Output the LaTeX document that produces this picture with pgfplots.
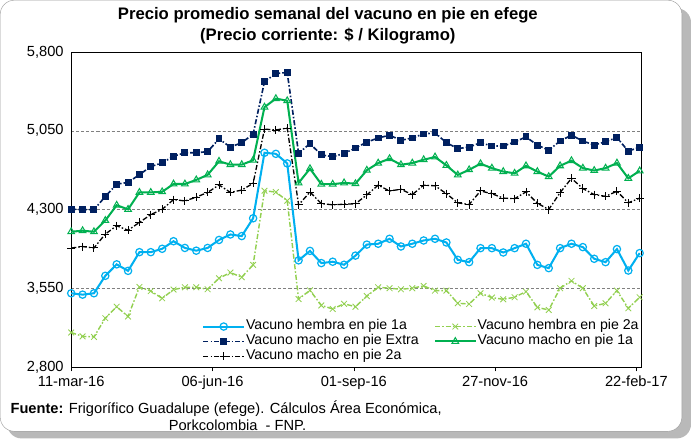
\documentclass[border=0pt]{standalone}
\usepackage{fontspec}
\setmainfont{Liberation Sans}
\usepackage{pgfplots}
\usepackage{pgfplotstable}
\pgfplotsset{compat=1.18}
\usetikzlibrary{backgrounds,calc}

\definecolor{hem1}{RGB}{0,176,240}
\definecolor{hem2}{RGB}{146,208,80}
\definecolor{extra}{RGB}{0,32,96}
\definecolor{mac1}{RGB}{0,176,80}

% d = dias desde 11-mar-16 (semanal)
\pgfplotstableread{
d   ext  m1   m2   h1   h2
0   4305 4090 3935 3505 3132
7   4300 4100 3949 3492 3095
14  4300 4090 3936 3505 3090
21  4425 4197 4068 3671 3268
28  4543 4342 4147 3780 3377
35  4559 4303 4104 3718 3284
42  4633 4464 4179 3896 3565
49  4710 4464 4253 3896 3526
56  4745 4470 4303 3928 3457
63  4808 4544 4396 4000 3540
70  4841 4544 4383 3936 3562
77  4841 4583 4419 3910 3562
84  4852 4631 4464 3936 3543
91  4973 4760 4535 4012 3648
98  4895 4728 4464 4064 3702
105 4937 4728 4486 4049 3658
112 5018 4770 4551 4218 3775
119 5517 5275 5066 4841 4480
126 5595 5356 5058 4831 4467
133 5604 5336 5076 4740 4385
140 4836 4554 4346 3818 3450
147 4928 4690 4467 3908 3533
154 4821 4542 4358 3792 3390
161 4803 4542 4346 3805 3356
168 4835 4555 4352 3776 3405
175 4886 4547 4356 3863 3377
182 4942 4675 4440 3968 3478
189 4982 4743 4533 3976 3562
196 5008 4785 4478 4023 3553
203 4960 4727 4494 3950 3543
210 4982 4743 4443 3976 3553
217 5020 4775 4533 4007 3575
224 5030 4801 4527 4023 3530
231 4937 4721 4452 3988 3530
238 4881 4630 4365 3823 3410
245 4895 4679 4349 3801 3403
252 4937 4737 4478 3934 3505
259 4905 4695 4452 3934 3464
266 4905 4662 4410 3893 3448
273 4943 4646 4404 3934 3467
280 4992 4717 4469 3976 3521
287 4914 4662 4362 3775 3371
294 4866 4614 4301 3744 3346
301 4953 4717 4462 3934 3553
308 5008 4766 4598 3976 3623
315 4953 4695 4501 3944 3553
322 4914 4672 4443 3833 3384
329 4947 4695 4427 3801 3410
336 4985 4743 4475 3925 3530
343 4856 4598 4365 3721 3362
350 4895 4669 4410 3887 3467
}\precios

\begin{document}
\begin{tikzpicture}[x=1bp,y=1bp]
\begin{axis}[
    scale only axis,
    width=562bp, height=311bp,
    xmin=0, xmax=351,
    ymin=2800, ymax=5800,
    xtick={0,87,174,261,348},
    xticklabels={11-mar-16,06-jun-16,01-sep-16,27-nov-16,22-feb-17},
    ytick={2800,3550,4300,5050,5800},
    scaled y ticks=false,
    /pgf/number format/1000 sep={,},
    /pgf/number format/assume math mode=true,
    tick label style={font=\fontsize{14.5}{16}\selectfont},
    yticklabel style={xshift=0bp},
    xticklabel style={yshift=-1bp},
    tick pos=left,
    tick align=outside,
    ytick style={draw=none},
    xtick style={black, thin},
    major tick length=4bp,
    ymajorgrids,
    major grid style={gray, densely dashed, thin},
    axis line style={black, thin},
    clip=false,
    legend columns=2,
    legend cell align=left,
    legend style={at={(0.228,0.157)}, anchor=north west, draw=none, fill=white,
        font=\fontsize{14}{14}\selectfont, inner sep=1bp, row sep=0bp,
        nodes={inner sep=1bp, text height=9.7bp, text depth=3bp},
        /tikz/every even column/.append style={column sep=14bp}},
    legend image code/.code={\draw[mark repeat=2,mark phase=2] plot coordinates {(0,0) (20bp,0) (40bp,0)};},
]
\addplot[hem1, line width=2bp, mark=o, mark size=3.6bp, mark options={solid, fill=white, line width=1.2bp}]
    table[x=d, y=h1] {\precios};
\addlegendentry{Vacuno hembra en pie 1a}
\addplot[hem2, line width=1.4bp, dash pattern=on 5bp off 2bp on 1.5bp off 2bp, mark=x, mark size=4bp, mark options={solid, line width=0.8bp}]
    table[x=d, y=h2] {\precios};
\addlegendentry{Vacuno hembra en pie 2a}
\addplot[extra, line width=1.6bp, dash pattern=on 5bp off 2bp on 1.5bp off 2bp, mark=square*, mark size=2.6bp, mark options={solid}]
    table[x=d, y=ext] {\precios};
\addlegendentry{Vacuno macho en pie Extra}
\addplot[mac1, line width=2bp, mark=triangle, mark size=3.8bp, mark options={solid, fill=white, line width=1bp}]
    table[x=d, y=m1] {\precios};
\addlegendentry{Vacuno macho en pie 1a}
\addplot[black, line width=1.3bp, dash pattern=on 5bp off 2bp on 1.5bp off 2bp, mark=+, mark size=4bp, mark options={solid, line width=0.9bp}]
    table[x=d, y=m2] {\precios};
\addlegendentry{Vacuno macho en pie 2a}
\coordinate (B) at (rel axis cs:0,0);
\end{axis}

\coordinate (O) at ($(B)+(-80,-70)$);
\begin{scope}[shift={(O)}]
\begin{scope}[on background layer]
\fill[gray!55, rounded corners=14bp] (17,0) rectangle (691,424);
\draw[gray!80, fill=white, rounded corners=14bp] (10,7) rectangle (682,432);
\end{scope}
\node[font=\bfseries\fontsize{16.5}{18}\selectfont] at (333,417) {Precio promedio semanal del vacuno en pie en efege};
\node[font=\bfseries\fontsize{16.5}{18}\selectfont] at (333,397) {(Precio corriente: \$ / Kilogramo)};
\node[anchor=base west, font=\fontsize{14.5}{16}\selectfont, inner sep=0] at (20,25)
    {\textbf{Fuente:} Frigorífico Guadalupe (efege). Cálculos Área Económica,};
\node[anchor=base west, font=\fontsize{14.5}{16}\selectfont, inner sep=0] at (176,8)
    {Porkcolombia \ - FNP.};
\end{scope}
\end{tikzpicture}
\end{document}
